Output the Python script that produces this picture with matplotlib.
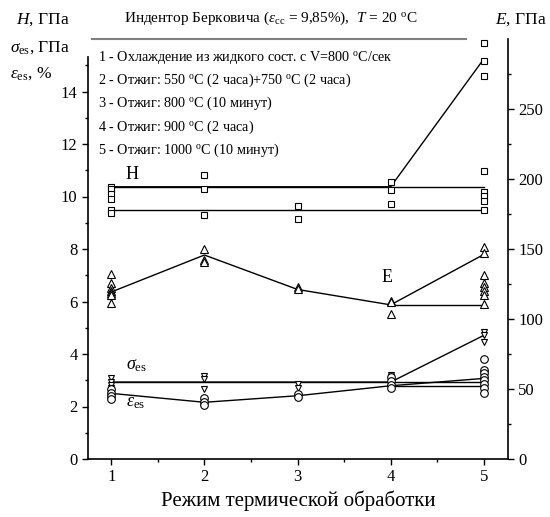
import matplotlib
matplotlib.use("Agg")
import matplotlib.pyplot as plt

plt.rcParams['font.family'] = ['Liberation Serif', 'DejaVu Serif']
plt.rcParams['mathtext.fontset'] = 'custom'
plt.rcParams['mathtext.rm'] = 'Liberation Serif'
plt.rcParams['mathtext.it'] = 'Liberation Serif:italic'

# heat treatment regimes
regimes = [1, 2, 3, 4, 5]
regime_notes = [
    r'1 - Охлаждение из жидкого сост. с V=800 $^{\rm o}$C/сек',
    r'2 - Отжиг: 550 $^{\rm o}$C (2 часа)+750 $^{\rm o}$C (2 часа)',
    r'3 - Отжиг: 800 $^{\rm o}$C (10 минут)',
    r'4 - Отжиг: 900 $^{\rm o}$C (2 часа)',
    r'5 - Отжиг: 1000 $^{\rm o}$C (10 минут)',
]

# hardness H, GPa (individual measurements per regime)
h_points = [
    [10.38, 10.30, 10.11, 9.92, 9.47, 9.39],
    [10.81, 10.29, 9.28],
    [9.63, 9.13],
    [10.54, 10.24, 9.70],
    [15.84, 15.16, 14.60, 10.96, 10.16, 10.01, 9.82, 9.47],
]
h_line = [10.37, 10.37, 10.37, 10.37, 15.24]
h_level_hi = [10.37, 10.37, 10.37, 10.37, 10.37]
h_level_lo = [9.47, 9.47, 9.47, 9.47, 9.47]

# Young's modulus E, GPa (right axis)
e_points = [
    [131.8, 126.0, 122.4, 120.0, 118.9, 117.0, 111.2],
    [150.2, 142.5, 140.6],
    [123.2, 121.1],
    [112.9, 111.8, 103.3],
    [151.3, 146.8, 131.3, 126.0, 123.2, 120.0, 117.2, 110.4],
]
e_line = [119.3, 145.7, 121.1, 110.1, 146.1]
e_tail = [110.1, 110.1]

# sigma_es, GPa
s_points = [
    [3.08, 2.94, 2.81, 2.72],
    [3.17, 3.04, 2.66],
    [2.85, 2.72],
    [3.19, 3.11],
    [4.84, 4.71, 4.46],
]
s_line = [2.93, 2.93, 2.93, 2.93, 4.71]
s_level = [2.93, 2.93, 2.93, 2.93, 2.93]

# eps_es, %
eps_points = [
    [2.66, 2.53, 2.41, 2.28],
    [2.31, 2.16, 2.05],
    [2.47, 2.35],
    [3.14, 2.98, 2.81, 2.69],
    [3.80, 3.38, 3.27, 3.14, 3.02, 2.85, 2.72, 2.53],
]
eps_line = [2.50, 2.16, 2.41, 2.79, 3.07]
eps_tail = [2.79, 2.79]

W, H = 550, 517
fig = plt.figure(figsize=(W / 100, H / 100), dpi=100)
ax = fig.add_axes([88 / W, 1 - 459 / H, 420 / W, 420 / H])
ax2 = ax.twinx()


def scatter_groups(axis, groups, marker, ms):
    for x, vals in zip(regimes, groups):
        axis.plot([x] * len(vals), vals, ls='none', marker=marker, ms=ms,
                  mfc='white', mec='black', mew=0.8, zorder=3)


lw = 1.0
ax.plot(regimes, h_level_hi, color='black', lw=lw)
ax.plot(regimes, h_level_lo, color='black', lw=lw)
ax.plot(regimes, h_line, color='black', lw=lw)
ax.plot(regimes, s_level, color='black', lw=lw)
ax.plot(regimes, s_line, color='black', lw=lw)
ax.plot(regimes, eps_line, color='black', lw=lw)
ax.plot(regimes[3:], eps_tail, color='black', lw=lw)
ax2.plot(regimes, e_line, color='black', lw=lw)
ax2.plot(regimes[3:], e_tail, color='black', lw=lw)

scatter_groups(ax, h_points, 's', 4.5)
scatter_groups(ax, s_points, 'v', 5)
scatter_groups(ax, eps_points, 'o', 5.5)
scatter_groups(ax2, e_points, '^', 5.5)

ax.set_xlim(0.75, 5.26)
ax.set_ylim(0, 16)
ax2.set_ylim(0, 300)

ax.set_xticks(regimes)
ax.set_xticks([1.5, 2.5, 3.5, 4.5], minor=True)
ax.set_yticks(range(0, 15, 2))
ax.set_yticks(range(1, 16, 2), minor=True)
ax2.set_yticks(range(0, 251, 50))
ax2.set_yticks(range(25, 300, 50), minor=True)

for a in (ax, ax2):
    a.tick_params(which='major', direction='out', length=4, width=1.0, labelsize=12)
    a.tick_params(which='minor', direction='out', length=2.5, width=1.0)
    for sp in a.spines.values():
        sp.set_linewidth(1.2)
    a.spines['top'].set_visible(False)
ax.spines['right'].set_visible(False)
ax2.spines['left'].set_visible(False)
ax2.spines['bottom'].set_visible(False)
ax.spines['left'].set_bounds(0, 15.3)

# gray rule along the top edge
ax.plot([0.01, 0.9], [1, 1], transform=ax.transAxes, color='#808080',
        lw=1.5, clip_on=False)

ax.set_xlabel('Режим термической обработки', fontsize=15, labelpad=4)

ax.text(1.22, 10.83, 'H', fontsize=13, ha='center', va='center')
ax.text(3.96, 6.92, 'E', fontsize=13, ha='center', va='center')
ax.text(1.16, 3.4, r'$\sigma_{\rm es}$', fontsize=13, ha='left', va='baseline')
ax.text(1.16, 2.0, r'$\varepsilon_{\rm es}$', fontsize=13, ha='left', va='baseline')

for i, note in enumerate(regime_notes):
    fig.text(98 / W, 1 - (57 + 23.3 * i) / H, note, fontsize=10.2, va='center')

fig.text(271 / W, 1 - 18 / H,
         r'Индентор Берковича ($\varepsilon_{\rm cc}$ = 9,85%),  $T$ = 20 $^{\rm o}$C',
         fontsize=11, ha='center', va='center')
fig.text(16 / W, 1 - 20 / H, r'$H$, ГПа', fontsize=12.5, va='center')
fig.text(10 / W, 1 - 48 / H, r'$\sigma_{\rm es}$, ГПа', fontsize=12.5, va='center')
fig.text(10 / W, 1 - 74 / H, r'$\varepsilon_{\rm es}$, %', fontsize=12.5, va='center')
fig.text(547 / W, 1 - 20 / H, r'$E$, ГПа', fontsize=12.5, ha='right', va='center')

fig.savefig('out.png', dpi=100)
